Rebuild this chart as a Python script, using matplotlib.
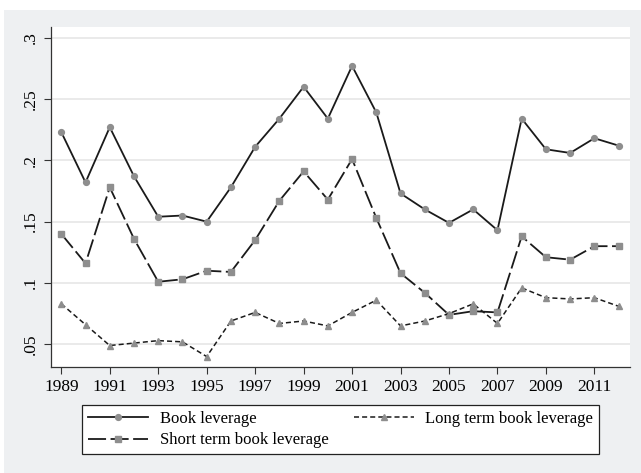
import numpy as np
import matplotlib
matplotlib.use("Agg")
import matplotlib.pyplot as plt
from matplotlib.patches import Rectangle

plt.rcParams['font.family'] = ['Liberation Serif', 'DejaVu Serif']

years = np.arange(1989, 2013)
book_lev = [0.223, 0.182, 0.227, 0.187, 0.154, 0.155, 0.150, 0.178, 0.211, 0.234,
            0.260, 0.234, 0.277, 0.239, 0.173, 0.160, 0.149, 0.160, 0.143, 0.234,
            0.209, 0.206, 0.218, 0.212]
short_lev = [0.140, 0.116, 0.178, 0.136, 0.101, 0.103, 0.110, 0.109, 0.135, 0.167,
             0.191, 0.168, 0.201, 0.153, 0.108, 0.092, 0.074, 0.077, 0.076, 0.138,
             0.121, 0.119, 0.130, 0.130]
long_lev = [0.083, 0.066, 0.049, 0.051, 0.053, 0.052, 0.040, 0.069, 0.076, 0.067,
            0.069, 0.065, 0.076, 0.086, 0.065, 0.069, 0.075, 0.083, 0.067, 0.096,
            0.088, 0.087, 0.088, 0.081]
ytick_vals = [0.05, 0.1, 0.15, 0.2, 0.25, 0.3]
ytick_labels = ['.05', '.1', '.15', '.2', '.25', '.3']
xtick_vals = np.arange(1989, 2013, 2)

W, H = 641, 473
fig = plt.figure(figsize=(W / 100, H / 100), dpi=100, facecolor='white')
# stata-style grey backdrop
fig.patches.append(Rectangle((4 / W, 0), 1 - 4 / W, 1 - 10 / H, transform=fig.transFigure,
                             facecolor='#eef0f2', edgecolor='none', zorder=-10))

ax = fig.add_axes([51 / W, 1 - 367 / H, (630 - 51) / W, (367 - 27) / H])
ax.set_facecolor('white')

mk = '#8e8e8e'
ax.plot(years, book_lev, color='#1a1a1a', lw=1.3, marker='o', ms=4.2,
        mfc=mk, mec=mk, label='Book leverage')
ax.plot(years, short_lev, color='#1a1a1a', lw=1.3, marker='s', ms=4.0,
        mfc=mk, mec=mk, dashes=(10, 2.5), label='Short term book leverage')
ax.plot(years, long_lev, color='#1a1a1a', lw=1.1, marker='^', ms=4.6,
        mfc=mk, mec=mk, dashes=(3.3, 2), label='Long term book leverage')

ax.set_xlim(1988.575, 2012.47)
ax.set_ylim(0.0315, 0.3087)
ax.set_yticks(ytick_vals)
ax.set_yticklabels(ytick_labels, rotation=90, va='center')
ax.set_xticks(xtick_vals)
ax.set_xticklabels([str(y) for y in xtick_vals])
ax.tick_params(axis='both', labelsize=12.5, length=5, width=0.8, color='#333333')
ax.tick_params(axis='y', pad=4)
ax.grid(axis='y', color='#e6e6e6', lw=1.2)
ax.set_axisbelow(True)
for s in ['top', 'right']:
    ax.spines[s].set_visible(False)
for s in ['left', 'bottom']:
    ax.spines[s].set_color('#333333')
    ax.spines[s].set_linewidth(0.9)

h, l = ax.get_legend_handles_labels()
leg = fig.legend([h[0], h[1], h[2]], [l[0], l[1], l[2]], ncol=2, loc='center',
                 bbox_to_anchor=(82 / W, 1 - 456 / H, (599 - 82) / W, 53 / H),
                 mode='expand', borderaxespad=0, fontsize=12, handlelength=3.6,
                 handletextpad=0.7, borderpad=0.35, labelspacing=0.35,
                 fancybox=False, framealpha=1, edgecolor='#222222')
leg.get_frame().set_linewidth(0.9)

fig.savefig('out.png', dpi=100, facecolor='white')
